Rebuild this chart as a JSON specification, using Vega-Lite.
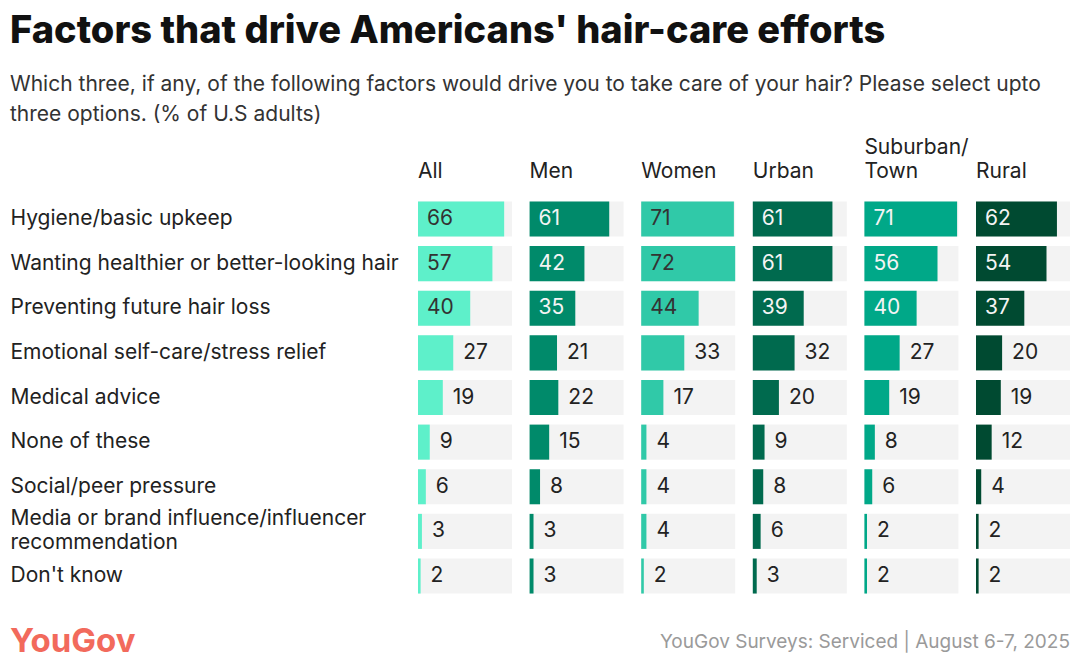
{
  "$schema": "https://vega.github.io/schema/vega-lite/v6.json",
  "padding": {"left": 10, "right": 10, "top": 13, "bottom": 5},
  "background": "white",
  "config": {"font": "Inter", "view": {"stroke": null}},
  "spacing": 28,
  "title": {
    "text": "Factors that drive Americans' hair-care efforts",
    "subtitle": ["Which three, if any, of the following factors would drive you to take care of your hair? Please select upto", "three options. (% of U.S adults)"],
    "anchor": "start",
    "font": "Inter",
    "fontSize": 38,
    "fontWeight": 800,
    "color": "#111111",
    "subtitleFont": "Inter",
    "subtitleFontSize": 21,
    "subtitleColor": "#333333",
    "subtitlePadding": 23,
    "subtitleLineHeight": 30,
    "offset": 12
  },
  "datasets": {
    "d": [
      {"factor": "Hygiene/basic upkeep", "group": "All", "value": 66},
      {"factor": "Hygiene/basic upkeep", "group": "Men", "value": 61},
      {"factor": "Hygiene/basic upkeep", "group": "Women", "value": 71},
      {"factor": "Hygiene/basic upkeep", "group": "Urban", "value": 61},
      {"factor": "Hygiene/basic upkeep", "group": "Suburban/Town", "value": 71},
      {"factor": "Hygiene/basic upkeep", "group": "Rural", "value": 62},
      {"factor": "Wanting healthier or better-looking hair", "group": "All", "value": 57},
      {"factor": "Wanting healthier or better-looking hair", "group": "Men", "value": 42},
      {"factor": "Wanting healthier or better-looking hair", "group": "Women", "value": 72},
      {"factor": "Wanting healthier or better-looking hair", "group": "Urban", "value": 61},
      {"factor": "Wanting healthier or better-looking hair", "group": "Suburban/Town", "value": 56},
      {"factor": "Wanting healthier or better-looking hair", "group": "Rural", "value": 54},
      {"factor": "Preventing future hair loss", "group": "All", "value": 40},
      {"factor": "Preventing future hair loss", "group": "Men", "value": 35},
      {"factor": "Preventing future hair loss", "group": "Women", "value": 44},
      {"factor": "Preventing future hair loss", "group": "Urban", "value": 39},
      {"factor": "Preventing future hair loss", "group": "Suburban/Town", "value": 40},
      {"factor": "Preventing future hair loss", "group": "Rural", "value": 37},
      {"factor": "Emotional self-care/stress relief", "group": "All", "value": 27},
      {"factor": "Emotional self-care/stress relief", "group": "Men", "value": 21},
      {"factor": "Emotional self-care/stress relief", "group": "Women", "value": 33},
      {"factor": "Emotional self-care/stress relief", "group": "Urban", "value": 32},
      {"factor": "Emotional self-care/stress relief", "group": "Suburban/Town", "value": 27},
      {"factor": "Emotional self-care/stress relief", "group": "Rural", "value": 20},
      {"factor": "Medical advice", "group": "All", "value": 19},
      {"factor": "Medical advice", "group": "Men", "value": 22},
      {"factor": "Medical advice", "group": "Women", "value": 17},
      {"factor": "Medical advice", "group": "Urban", "value": 20},
      {"factor": "Medical advice", "group": "Suburban/Town", "value": 19},
      {"factor": "Medical advice", "group": "Rural", "value": 19},
      {"factor": "None of these", "group": "All", "value": 9},
      {"factor": "None of these", "group": "Men", "value": 15},
      {"factor": "None of these", "group": "Women", "value": 4},
      {"factor": "None of these", "group": "Urban", "value": 9},
      {"factor": "None of these", "group": "Suburban/Town", "value": 8},
      {"factor": "None of these", "group": "Rural", "value": 12},
      {"factor": "Social/peer pressure", "group": "All", "value": 6},
      {"factor": "Social/peer pressure", "group": "Men", "value": 8},
      {"factor": "Social/peer pressure", "group": "Women", "value": 4},
      {"factor": "Social/peer pressure", "group": "Urban", "value": 8},
      {"factor": "Social/peer pressure", "group": "Suburban/Town", "value": 6},
      {"factor": "Social/peer pressure", "group": "Rural", "value": 4},
      {"factor": "Media or brand influence/influencer recommendation", "group": "All", "value": 3},
      {"factor": "Media or brand influence/influencer recommendation", "group": "Men", "value": 3},
      {"factor": "Media or brand influence/influencer recommendation", "group": "Women", "value": 4},
      {"factor": "Media or brand influence/influencer recommendation", "group": "Urban", "value": 6},
      {"factor": "Media or brand influence/influencer recommendation", "group": "Suburban/Town", "value": 2},
      {"factor": "Media or brand influence/influencer recommendation", "group": "Rural", "value": 2},
      {"factor": "Don't know", "group": "All", "value": 2},
      {"factor": "Don't know", "group": "Men", "value": 3},
      {"factor": "Don't know", "group": "Women", "value": 2},
      {"factor": "Don't know", "group": "Urban", "value": 3},
      {"factor": "Don't know", "group": "Suburban/Town", "value": 2},
      {"factor": "Don't know", "group": "Rural", "value": 2}
    ]
  },
  "vconcat": [
    {
      "data": {"name": "d"},
      "spacing": 17.6,
      "facet": {
        "column": {
          "field": "group",
          "type": "nominal",
          "sort": ["All", "Men", "Women", "Urban", "Suburban/Town", "Rural"],
          "title": null,
          "header": {
            "labelOrient": "top",
            "labelAnchor": "start",
            "labelAlign": "left",
            "labelBaseline": "middle",
            "labelFont": "Inter",
            "labelFontSize": 21,
            "labelColor": "#222222",
            "labelPadding": 4,
            "labelLineHeight": 24,
            "labelExpr": "split(replace(datum.label, '/', '/|'), '|')"
          }
        }
      },
      "spec": {
        "width": 94,
        "height": 401,
        "encoding": {
          "y": {
            "field": "factor",
            "type": "nominal",
            "sort": ["Hygiene/basic upkeep", "Wanting healthier or better-looking hair", "Preventing future hair loss", "Emotional self-care/stress relief", "Medical advice", "None of these", "Social/peer pressure", "Media or brand influence/influencer recommendation", "Don't know"],
            "scale": {"paddingInner": 0.215, "paddingOuter": 0.1},
            "title": null,
            "axis": {
              "labelAlign": "left",
              "labelPadding": 408,
              "ticks": false,
              "tickSize": 0,
              "domain": false,
              "grid": false,
              "labelFont": "Inter",
              "labelFontSize": 21,
              "labelColor": "#222222",
              "labelLimit": 1000,
              "labelLineHeight": 24,
              "labelOffset": {"condition": {"test": "datum.label == 'Media or brand influence/influencer recommendation'", "value": -12}, "value": 0},
              "labelExpr": "datum.label == 'Media or brand influence/influencer recommendation' ? ['Media or brand influence/influencer', 'recommendation'] : datum.label"
            }
          }
        },
        "layer": [
          {
            "mark": {"type": "bar", "color": "#F3F3F3"},
            "encoding": {
              "x": {"datum": 0, "type": "quantitative", "scale": {"domain": [0, 72], "nice": false, "zero": true}, "axis": null},
              "x2": {"datum": 72}
            }
          },
          {
            "mark": {"type": "bar"},
            "encoding": {
              "x": {"field": "value", "type": "quantitative"},
              "color": {
                "field": "group",
                "type": "nominal",
                "scale": {
                  "domain": ["All", "Men", "Women", "Urban", "Suburban/Town", "Rural"],
                  "range": ["#5EF0CA", "#008A6A", "#30C9A8", "#006A4E", "#00A888", "#004A31"]
                },
                "legend": null
              }
            }
          },
          {
            "transform": [{"filter": "datum.value >= 35"}],
            "mark": {"type": "text", "align": "left", "baseline": "middle", "dx": 9, "fontSize": 21, "font": "Inter"},
            "encoding": {
              "x": {"datum": 0, "type": "quantitative"},
              "text": {"field": "value", "type": "quantitative"},
              "color": {
                "condition": {"test": "datum.group == 'All' || datum.group == 'Women'", "value": "#333333"},
                "value": "#F4F4F4"
              }
            }
          },
          {
            "transform": [{"filter": "datum.value < 35"}],
            "mark": {"type": "text", "align": "left", "baseline": "middle", "dx": 10, "fontSize": 21, "font": "Inter", "color": "#222222"},
            "encoding": {
              "x": {"field": "value", "type": "quantitative"},
              "text": {"field": "value", "type": "quantitative"}
            }
          }
        ]
      }
    },
    {
      "width": 652,
      "height": 30,
      "data": {"values": [
        {"label": "YouGov", "side": "left"},
        {"label": "YouGov Surveys: Serviced | August 6-7, 2025", "side": "right"}
      ]},
      "layer": [
        {
          "transform": [{"filter": "datum.side == 'left'"}],
          "mark": {"type": "text", "align": "left", "baseline": "middle", "font": "Inter", "fontSize": 33, "fontWeight": "bold", "color": "#F26A5C", "letterSpacing": -1},
          "encoding": {
            "x": {"field": "side", "type": "nominal", "scale": {"type": "point", "domain": ["left", "right"], "range": [-408, 652], "padding": 0}, "axis": null},
            "text": {"field": "label"}
          }
        },
        {
          "transform": [{"filter": "datum.side == 'right'"}],
          "mark": {"type": "text", "align": "right", "baseline": "middle", "font": "Inter", "fontSize": 19, "color": "#9A9A9A"},
          "encoding": {
            "x": {"field": "side", "type": "nominal", "scale": {"type": "point", "domain": ["left", "right"], "range": [-408, 652], "padding": 0}, "axis": null},
            "text": {"field": "label"}
          }
        }
      ]
    }
  ]
}
